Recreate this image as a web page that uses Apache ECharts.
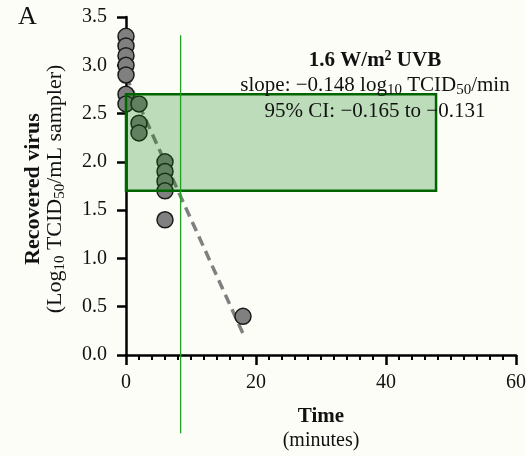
<!DOCTYPE html>
<html><head><meta charset="utf-8">
<script src="https://cdn.jsdelivr.net/npm/echarts@6/dist/echarts.min.js"></script>
<style>html,body{margin:0;padding:0;background:#fdfdf8}#c{width:526px;height:456px}</style>
</head><body><div id="c"></div>
<script>
// ---- data ----
const timeMin = [0, 0, 0, 0, 0, 0, 0, 2, 2, 2, 6, 6, 6, 6, 6, 18];
const logVirus = [3.3, 3.2, 3.1, 3.0, 2.9, 2.7, 2.6, 2.6, 2.4, 2.3, 2.0, 1.9, 1.8, 1.7, 1.4, 0.4];
const fitTime = [0, 18];
const fitLog = [2.886, 0.222];
const boxTime = [0, 47.7];
const boxLog = [1.7, 2.7];
const markTime = [8.4, 8.4];
const markLog = [3.31, -0.81];
const xTicks = [0, 20, 40, 60];
const yTicks = [0.0, 0.5, 1.0, 1.5, 2.0, 2.5, 3.0, 3.5];

const FF = "'Liberation Serif', 'DejaVu Serif', serif";
const INK = '#111';

const chart = echarts.init(document.getElementById('c'), null, {renderer: 'canvas'});

const scatterData = timeMin.map((t, i) => [t, logVirus[i]]);
const fitData = fitTime.map((t, i) => [t, fitLog[i]]);
const markData = markTime.map((t, i) => [t, markLog[i]]);

function txt(x, y, text, size, weight, rich, rotation) {
  return {
    type: 'text', x: x, y: y, rotation: rotation || 0, z: 20,
    style: {
      text: text, fontSize: size, fontFamily: FF, fontWeight: weight || 'normal',
      fill: INK, align: 'center', verticalAlign: 'middle', rich: rich || undefined
    }
  };
}

const subRich = (size) => ({
  n: {fontSize: size, fontFamily: FF, fill: INK, lineHeight: 24, verticalAlign: 'middle'},
  s: {fontSize: Math.round(size * 0.7), fontFamily: FF, fill: INK, lineHeight: 10, verticalAlign: 'bottom'}
});

const option = {
  backgroundColor: '#fdfdf8',
  animation: false,
  grid: {left: 126, right: 10, top: 17, bottom: 101, containLabel: false, outerBoundsMode: 'none'},
  xAxis: {
    type: 'value', min: xTicks[0], max: xTicks[xTicks.length - 1], interval: 20,
    axisLine: {show: true, onZero: false, lineStyle: {color: '#000', width: 2.5}},
    axisTick: {show: true, length: 10, lineStyle: {color: '#000', width: 2.5}},
    minorTick: {show: true, splitNumber: 10, length: 5, lineStyle: {color: '#000', width: 2}},
    splitLine: {show: false},
    axisLabel: {fontSize: 20, fontFamily: FF, color: INK, margin: 18}
  },
  yAxis: {
    type: 'value', min: yTicks[0], max: yTicks[yTicks.length - 1], interval: 0.5,
    axisLine: {show: true, onZero: false, lineStyle: {color: '#000', width: 2.5}},
    axisTick: {show: true, length: 9, lineStyle: {color: '#000', width: 2.5}},
    splitLine: {show: false},
    axisLabel: {fontSize: 20, fontFamily: FF, color: INK, margin: 19, formatter: v => v.toFixed(1)}
  },
  series: [
    {
      type: 'line', data: fitData, symbol: 'none', z: 3, silent: true,
      lineStyle: {color: '#808080', width: 3.5, type: [10, 6]}
    },
    {
      type: 'scatter', data: scatterData, symbol: 'circle', symbolSize: 16, z: 4,
      itemStyle: {color: '#808080', borderColor: '#1a1a1a', borderWidth: 1.5, opacity: 1}
    },
    {
      type: 'custom', z: 5, silent: true,
      data: [[boxTime[0], boxTime[1], boxLog[0], boxLog[1]]],
      encode: {x: [0, 1], y: [2, 3]},
      renderItem: function (params, api) {
        const p0 = api.coord([api.value(0), api.value(3)]);
        const p1 = api.coord([api.value(1), api.value(2)]);
        return {
          type: 'rect',
          shape: {x: p0[0], y: p0[1], width: p1[0] - p0[0], height: p1[1] - p0[1]},
          style: {fill: 'rgba(0,128,0,0.25)', stroke: '#006400', lineWidth: 2.5}
        };
      }
    },
    {
      type: 'line', data: markData, symbol: 'none', z: 6, clip: false, silent: true,
      lineStyle: {color: '#22a022', width: 1.3}
    }
  ],
  graphic: [
    txt(27.5, 17, 'A', 26),
    txt(375, 60.9, '{b|1.6 W/m}{p|2}{b| UVB}', 21, 'bold', {
      b: {fontSize: 21, fontFamily: FF, fontWeight: 'bold', fill: INK, lineHeight: 24, verticalAlign: 'middle'},
      p: {fontSize: 14, fontFamily: FF, fontWeight: 'bold', fill: INK, lineHeight: 18, verticalAlign: 'top'}
    }),
    txt(375, 85.9, '{n|slope: \u22120.148 log}{s|10}{n| TCID}{s|50}{n|/min}', 21, 'normal', subRich(21)),
    txt(375, 111.9, '{n|95% CI: \u22120.165 to \u22120.131}', 21, 'normal', subRich(21)),
    txt(33.5, 189, 'Recovered virus', 22, 'bold', null, Math.PI / 2),
    txt(55.5, 189, '{n|(Log}{s|10}{n| TCID}{s|50}{n|/mL sampler)}', 22, 'normal', subRich(22), Math.PI / 2),
    txt(321, 417, 'Time', 21, 'bold'),
    txt(321, 441, '(minutes)', 20)
  ]
};
chart.setOption(option);
</script>
</body></html>
